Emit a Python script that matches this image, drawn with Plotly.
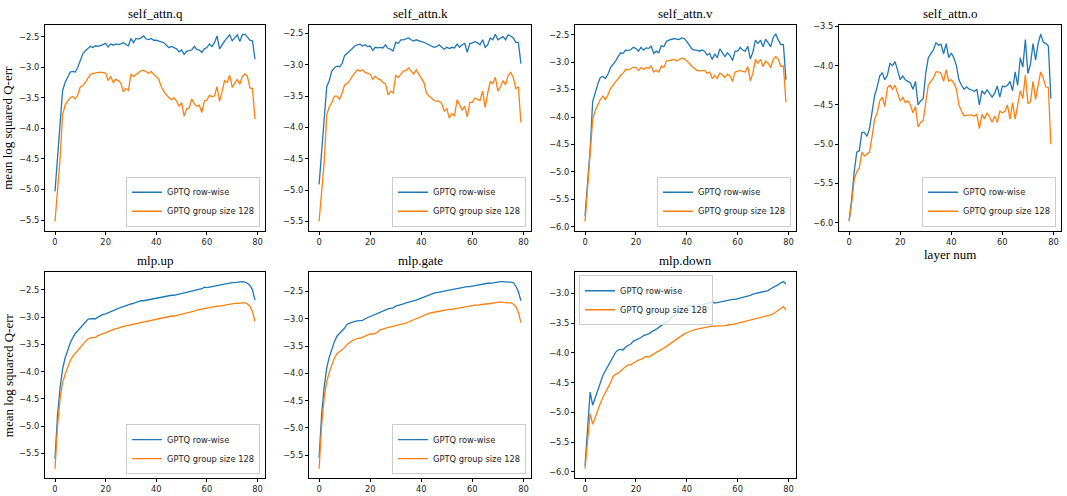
import plotly.graph_objects as go

layers = list(range(80))

titles = ["self_attn.q", "self_attn.k", "self_attn.v", "self_attn.o", "mlp.up", "mlp.gate", "mlp.down"]

q_row = [-5.03, -4.5, -4.0, -3.38, -3.25, -3.15, -3.08, -3.07, -3.08, -3.0,
         -2.88, -2.78, -2.73, -2.7, -2.66, -2.68, -2.65, -2.66, -2.65, -2.63,
         -2.61, -2.67, -2.62, -2.64, -2.62, -2.63, -2.62, -2.6, -2.63, -2.65,
         -2.53, -2.6, -2.53, -2.54, -2.52, -2.49, -2.54, -2.55, -2.53, -2.56,
         -2.56, -2.57, -2.58, -2.6, -2.64, -2.68, -2.66, -2.68, -2.7, -2.75,
         -2.72, -2.79, -2.74, -2.73, -2.72, -2.66, -2.71, -2.72, -2.76, -2.7,
         -2.68, -2.62, -2.66, -2.6, -2.49, -2.7, -2.63, -2.57, -2.52, -2.47,
         -2.57, -2.52, -2.47, -2.58, -2.47, -2.46, -2.52, -2.56, -2.57, -2.87]
q_grp = [-5.52, -5.0, -4.5, -3.78, -3.62, -3.55, -3.5, -3.48, -3.52, -3.45,
         -3.32, -3.3, -3.25, -3.18, -3.12, -3.1, -3.09, -3.08, -3.08, -3.09,
         -3.1, -3.22, -3.15, -3.25, -3.2, -3.22, -3.26, -3.4, -3.35, -3.38,
         -3.12, -3.15, -3.12, -3.08, -3.06, -3.05, -3.07, -3.1, -3.07, -3.12,
         -3.15, -3.2, -3.32, -3.4, -3.45, -3.5, -3.53, -3.5, -3.55, -3.64,
         -3.58, -3.8, -3.68, -3.67, -3.52, -3.6, -3.64, -3.62, -3.74, -3.55,
         -3.54, -3.46, -3.48, -3.47, -3.32, -3.56, -3.4, -3.22, -3.25, -3.13,
         -3.33, -3.27, -3.2, -3.28, -3.15, -3.11, -3.15, -3.34, -3.35, -3.85]

k_row = [-4.91, -4.4, -3.9, -3.35, -3.25, -3.1, -3.05, -3.02, -3.03, -2.98,
         -2.85, -2.82, -2.78, -2.74, -2.7, -2.68, -2.67, -2.7, -2.68, -2.71,
         -2.7, -2.77, -2.72, -2.73, -2.72, -2.73, -2.68, -2.74, -2.75, -2.78,
         -2.64, -2.66, -2.6, -2.6, -2.58, -2.57, -2.6, -2.62, -2.6, -2.62,
         -2.63, -2.64, -2.66, -2.68, -2.71, -2.72, -2.71, -2.68, -2.72, -2.75,
         -2.72, -2.74, -2.72, -2.73, -2.67, -2.72, -2.68, -2.66, -2.8, -2.66,
         -2.65, -2.63, -2.65, -2.68, -2.6, -2.72, -2.68, -2.57, -2.6, -2.51,
         -2.6, -2.58, -2.55, -2.6, -2.52, -2.54, -2.57, -2.64, -2.64, -2.98]
k_grp = [-5.5, -5.0, -4.55, -3.8, -3.67, -3.6, -3.5, -3.5, -3.55, -3.45,
         -3.32, -3.3, -3.25, -3.18, -3.12, -3.08, -3.1, -3.08, -3.12, -3.13,
         -3.15, -3.23, -3.18, -3.22, -3.24, -3.28, -3.3, -3.48, -3.42, -3.45,
         -3.17, -3.2, -3.14, -3.1, -3.09, -3.05, -3.1, -3.15, -3.08, -3.15,
         -3.2, -3.28, -3.45, -3.5, -3.53, -3.57, -3.58, -3.58, -3.62, -3.74,
         -3.7, -3.85, -3.78, -3.82, -3.56, -3.65, -3.72, -3.66, -3.83, -3.6,
         -3.6, -3.53, -3.55, -3.57, -3.42, -3.68, -3.45, -3.27, -3.3, -3.2,
         -3.42, -3.35, -3.25, -3.32, -3.17, -3.12, -3.2, -3.38, -3.35, -3.92]

v_row = [-5.8, -5.2, -4.6, -3.72, -3.55, -3.4, -3.28, -3.26, -3.3, -3.22,
         -3.1, -3.05, -2.98, -2.9, -2.83, -2.84, -2.78, -2.79, -2.77, -2.73,
         -2.75, -2.8, -2.73, -2.78, -2.74, -2.75, -2.71, -2.84, -2.8, -2.83,
         -2.7, -2.72, -2.62, -2.6, -2.59, -2.57, -2.58, -2.59, -2.56, -2.57,
         -2.62, -2.68, -2.76, -2.78, -2.78, -2.8, -2.78, -2.8, -2.87, -2.84,
         -2.95, -2.85, -2.92, -2.76, -2.82, -2.9, -2.83, -2.88, -2.97, -2.8,
         -2.8, -2.73, -2.78, -2.8, -2.71, -2.94, -2.82, -2.6, -2.66, -2.6,
         -2.72, -2.58, -2.65, -2.72, -2.55, -2.49, -2.6, -2.68, -2.68, -3.32]
v_grp = [-5.9, -5.3, -4.7, -4.05, -3.88, -3.78, -3.68, -3.62, -3.68, -3.6,
         -3.48, -3.42, -3.37, -3.3, -3.24, -3.2, -3.13, -3.14, -3.12, -3.09,
         -3.1, -3.15, -3.1, -3.13, -3.1, -3.11, -3.07, -3.18, -3.15, -3.18,
         -3.07, -3.1, -2.98, -2.97, -2.96, -2.95, -2.98, -2.95, -2.93, -2.94,
         -2.98, -3.02, -3.08, -3.12, -3.15, -3.16, -3.15, -3.15, -3.2, -3.18,
         -3.3, -3.24, -3.3, -3.2, -3.23, -3.28, -3.22, -3.25, -3.35, -3.18,
         -3.17, -3.15, -3.17, -3.18, -3.08, -3.34, -3.2, -2.95, -3.02, -2.95,
         -3.08, -2.98, -3.02, -3.1, -2.95, -2.9, -2.95, -3.08, -3.07, -3.73]

o_row = [-5.97, -5.7, -5.35, -5.1, -5.08, -4.85, -4.85, -4.9, -4.8, -4.6,
         -4.38, -4.27, -4.13, -4.09, -4.18, -4.12, -3.97, -4.0, -3.95, -4.06,
         -4.18, -4.13, -4.18, -4.2, -4.22, -4.3, -4.2, -4.5, -4.45, -4.42,
         -4.1, -3.9, -3.85, -3.8, -3.71, -3.74, -3.73, -3.85, -3.72, -3.9,
         -3.84, -3.9, -4.0, -4.18, -4.25, -4.3, -4.27, -4.3, -4.31, -4.33,
         -4.3, -4.5, -4.32, -4.36, -4.31, -4.36, -4.4, -4.35, -4.26, -4.4,
         -4.26, -4.27, -4.25, -4.2, -4.32, -4.08, -4.25, -3.9, -4.02, -3.67,
         -4.1, -3.98, -3.72, -3.93, -3.72, -3.6, -3.7, -3.72, -3.75, -4.42]
o_grp = [-5.98, -5.75, -5.45, -5.35, -5.3, -5.1, -5.15, -5.12, -5.1, -4.9,
         -4.68, -4.6, -4.45, -4.4, -4.52, -4.28, -4.25, -4.3, -4.25, -4.35,
         -4.45, -4.4, -4.47, -4.45, -4.5, -4.6, -4.52, -4.78, -4.72, -4.7,
         -4.45, -4.25, -4.2, -4.16, -4.08, -4.08, -4.1, -4.2, -4.05, -4.2,
         -4.18, -4.22, -4.3, -4.5, -4.58, -4.64, -4.63, -4.63, -4.63, -4.64,
         -4.62, -4.8, -4.62, -4.68, -4.6, -4.65, -4.72, -4.64, -4.72, -4.58,
         -4.6, -4.58, -4.5, -4.68, -4.47, -4.68, -4.52, -4.32, -4.42, -4.12,
         -4.48, -4.46, -4.2, -4.43, -4.25, -4.08, -4.16, -4.27, -4.28, -5.0]

up_row = [-5.6, -4.8, -4.3, -3.95, -3.75, -3.6, -3.48, -3.38, -3.3, -3.25,
          -3.2, -3.15, -3.1, -3.04, -3.03, -3.03, -3.03, -3.0, -2.97, -2.95,
          -2.94, -2.92, -2.9, -2.88, -2.86, -2.83, -2.82, -2.81, -2.79, -2.77,
          -2.76, -2.75, -2.73, -2.72, -2.7, -2.7, -2.69, -2.68, -2.68, -2.67,
          -2.66, -2.65, -2.64, -2.63, -2.61, -2.6, -2.6, -2.6, -2.59, -2.58,
          -2.57, -2.56, -2.55, -2.54, -2.53, -2.52, -2.51, -2.5, -2.48, -2.45,
          -2.46, -2.45, -2.44, -2.43, -2.42, -2.42, -2.4, -2.39, -2.38, -2.38,
          -2.37, -2.37, -2.36, -2.36, -2.35, -2.36, -2.38, -2.42, -2.5, -2.69]
up_grp = [-5.78, -5.0, -4.5, -4.2, -4.05, -3.92, -3.8, -3.72, -3.66, -3.6,
          -3.56, -3.5, -3.45, -3.4, -3.38, -3.38, -3.37, -3.34, -3.32, -3.31,
          -3.29, -3.27, -3.25, -3.23, -3.21, -3.2, -3.18, -3.17, -3.16, -3.15,
          -3.14, -3.13, -3.12, -3.1, -3.09, -3.09, -3.08, -3.07, -3.06, -3.05,
          -3.04, -3.03, -3.02, -3.01, -3.0, -2.99, -2.98, -2.98, -2.97, -2.96,
          -2.95, -2.94, -2.93, -2.92, -2.9, -2.89, -2.87, -2.86, -2.86, -2.85,
          -2.84, -2.83, -2.82, -2.81, -2.8, -2.8, -2.79, -2.78, -2.77, -2.76,
          -2.76, -2.75, -2.75, -2.74, -2.74, -2.74, -2.76, -2.8, -2.9, -3.08]

gate_row = [-5.55, -4.75, -4.25, -3.9, -3.7, -3.55, -3.42, -3.32, -3.26, -3.22,
            -3.17, -3.1, -3.08, -3.06, -3.05, -3.04, -3.03, -3.03, -3.0, -2.98,
            -2.96, -2.94, -2.92, -2.9, -2.87, -2.85, -2.83, -2.82, -2.81, -2.8,
            -2.77, -2.76, -2.75, -2.73, -2.71, -2.7, -2.69, -2.67, -2.66, -2.64,
            -2.62, -2.6, -2.59, -2.57, -2.55, -2.53, -2.52, -2.51, -2.5, -2.5,
            -2.49, -2.48, -2.47, -2.46, -2.45, -2.44, -2.43, -2.42, -2.41, -2.41,
            -2.4, -2.39, -2.38, -2.37, -2.37, -2.36, -2.35, -2.35, -2.34, -2.34,
            -2.33, -2.32, -2.32, -2.33, -2.33, -2.33, -2.34, -2.4, -2.5, -2.67]
gate_grp = [-5.75, -4.95, -4.45, -4.15, -3.98, -3.85, -3.72, -3.64, -3.6, -3.57,
            -3.53, -3.47, -3.43, -3.4, -3.38, -3.36, -3.36, -3.34, -3.32, -3.3,
            -3.28, -3.28, -3.27, -3.24, -3.2, -3.19, -3.17, -3.16, -3.15, -3.14,
            -3.12, -3.12, -3.11, -3.1, -3.08, -3.06, -3.04, -3.02, -3.0, -2.98,
            -2.95, -2.93, -2.91, -2.9, -2.89, -2.88, -2.88, -2.87, -2.86, -2.85,
            -2.84, -2.83, -2.83, -2.82, -2.81, -2.81, -2.8, -2.79, -2.78, -2.77,
            -2.76, -2.75, -2.75, -2.74, -2.74, -2.73, -2.73, -2.72, -2.71, -2.71,
            -2.7, -2.69, -2.7, -2.71, -2.71, -2.71, -2.73, -2.78, -2.88, -3.07]

down_row = [-5.9, -5.3, -4.66, -4.88, -4.75, -4.6, -4.48, -4.38, -4.3, -4.22,
            -4.13, -4.05, -3.99, -3.95, -3.94, -3.95, -3.9, -3.87, -3.85, -3.8,
            -3.78, -3.77, -3.74, -3.71, -3.7, -3.68, -3.65, -3.63, -3.6, -3.57,
            -3.54, -3.51, -3.48, -3.45, -3.4, -3.37, -3.34, -3.32, -3.29, -3.26,
            -3.24, -3.2, -3.2, -3.2, -3.2, -3.19, -3.19, -3.18, -3.17, -3.16,
            -3.14, -3.16, -3.15, -3.15, -3.14, -3.13, -3.12, -3.11, -3.1, -3.1,
            -3.09, -3.07, -3.06, -3.05, -3.04, -3.03, -3.01, -3.0, -2.98, -2.97,
            -2.97, -2.96, -2.95, -2.92, -2.9, -2.87, -2.85, -2.82, -2.8, -2.84]
down_grp = [-5.95, -5.5, -5.02, -5.2, -5.08, -4.95, -4.85, -4.75, -4.67, -4.6,
            -4.5, -4.4, -4.36, -4.34, -4.3, -4.27, -4.23, -4.2, -4.2, -4.17,
            -4.14, -4.12, -4.11, -4.08, -4.06, -4.07, -4.05, -4.02, -3.99, -3.97,
            -3.95, -3.92, -3.89, -3.86, -3.83, -3.8, -3.76, -3.73, -3.7, -3.68,
            -3.66, -3.64, -3.62, -3.61, -3.6, -3.59, -3.58, -3.57, -3.56, -3.55,
            -3.55, -3.55, -3.55, -3.54, -3.54, -3.54, -3.53, -3.53, -3.52, -3.51,
            -3.5, -3.49, -3.48, -3.47, -3.46, -3.45, -3.44, -3.42, -3.41, -3.4,
            -3.4, -3.39, -3.38, -3.36, -3.34, -3.31, -3.28, -3.25, -3.22, -3.28]

row_series = [q_row, k_row, v_row, o_row, up_row, gate_row, down_row]
grp_series = [q_grp, k_grp, v_grp, o_grp, up_grp, gate_grp, down_grp]
legend_names = ["GPTQ row-wise", "GPTQ group size 128"]
colors = ["#1f77b4", "#ff7f0e"]

W, H = 1067, 496
col_px = [(45, 265), (309, 531), (575, 796), (839, 1061)]
row_px = [(21, 229), (271, 479)]

fig = go.Figure()
layout = dict(width=W, height=H, margin=dict(l=0, r=0, t=0, b=0),
              paper_bgcolor="white", plot_bgcolor="white", showlegend=True,
              font=dict(family="DejaVu Sans", size=8.3, color="black"))
annotations = []

for i in range(7):
    r, c = divmod(i, 4)
    idx = "" if i == 0 else str(i + 1)
    lg = "legend" if i == 0 else "legend" + str(i + 1)
    for s, (data, name) in enumerate(zip([row_series[i], grp_series[i]], legend_names)):
        fig.add_trace(go.Scatter(x=layers, y=data, mode="lines", name=name,
                                 line=dict(color=colors[s], width=1.3),
                                 xaxis="x" + idx, yaxis="y" + idx, legend=lg))
    x0, x1 = col_px[c]
    t0, t1 = row_px[r]
    allv = row_series[i] + grp_series[i]
    lo, hi = min(allv), max(allv)
    pad = 0.05 * (hi - lo)
    axcommon = dict(showline=True, linecolor="black", linewidth=1, mirror=True,
                    ticks="outside", ticklen=3, tickwidth=1, tickcolor="black",
                    showgrid=False, zeroline=False,
                    tickfont=dict(family="DejaVu Sans", size=8.3, color="#222"))
    layout["xaxis" + idx] = dict(domain=[x0 / W, x1 / W], anchor="y" + idx,
                                 range=[-3.95, 82.95], tickmode="array",
                                 tickvals=[0, 20, 40, 60, 80], **axcommon)
    layout["yaxis" + idx] = dict(domain=[(H - t1) / H, (H - t0) / H], anchor="x" + idx,
                                 range=[lo - pad, hi + pad], dtick=0.5, tick0=0,
                                 tickformat=".1f", **axcommon)
    annotations.append(dict(text=titles[i], x=(x0 + x1) / 2 / W, y=(H - t0 + 2) / H,
                            xref="paper", yref="paper", xanchor="center", yanchor="bottom",
                            showarrow=False,
                            font=dict(family="Liberation Serif", size=13, color="black")))
    legcommon = dict(bgcolor="rgba(255,255,255,0.8)", bordercolor="#cccccc", borderwidth=1,
                     font=dict(family="DejaVu Sans", size=8.3, color="#222"),
                     itemwidth=30, tracegroupgap=0)
    if i == 6:
        layout[lg] = dict(x=(x0 + 4) / W, y=(H - t0 - 3) / H, xanchor="left", yanchor="top",
                          **legcommon)
    else:
        layout[lg] = dict(x=(x1 - 5) / W, y=(H - t1 + 4) / H, xanchor="right", yanchor="bottom",
                          **legcommon)

for r in range(2):
    t0, t1 = row_px[r]
    annotations.append(dict(text="mean log squared Q-err", x=8 / W, y=(H - (t0 + t1) / 2) / H,
                            xref="paper", yref="paper", xanchor="center", yanchor="middle",
                            textangle=-90, showarrow=False,
                            font=dict(family="Liberation Serif", size=13, color="black")))
annotations.append(dict(text="layer num", x=(839 + 1061) / 2 / W, y=(H - 253) / H,
                        xref="paper", yref="paper", xanchor="center", yanchor="middle",
                        showarrow=False,
                        font=dict(family="Liberation Serif", size=13, color="black")))
layout["annotations"] = annotations
fig.update_layout(**layout)
fig.write_html("out.html", config={"displayModeBar": False},
               post_script="document.body.style.margin='0';document.body.style.padding='0';"
                           "document.documentElement.style.overflow='hidden';")
